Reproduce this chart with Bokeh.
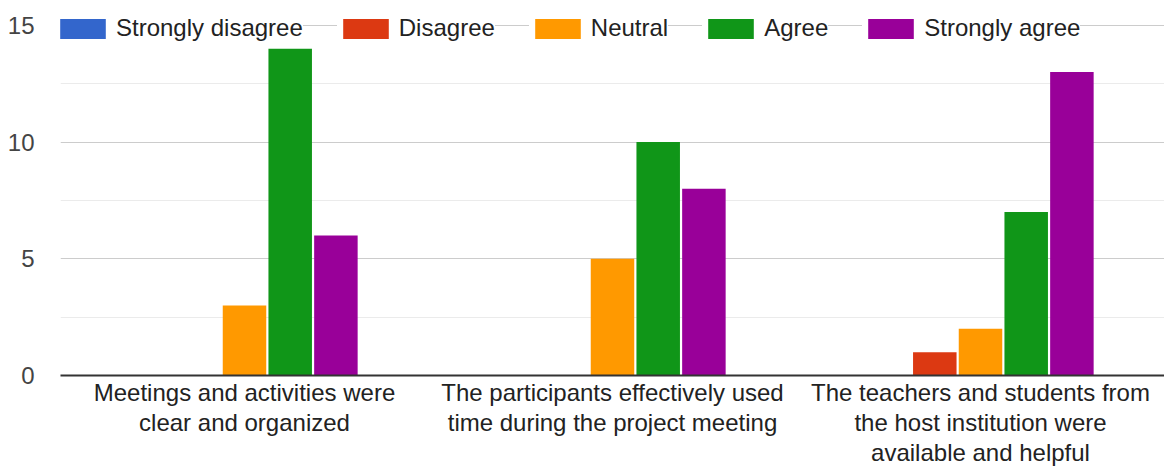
from bokeh.plotting import figure
from bokeh.models import FactorRange, Range1d, FixedTicker, Legend
from bokeh.transform import dodge
from bokeh.embed import file_html
from bokeh.resources import INLINE

categories = [
    "Meetings and activities were\nclear and organized",
    "The participants effectively used\ntime during the project meeting",
    "The teachers and students from\nthe host institution were\navailable and helpful",
]
series_names = ["Strongly disagree", "Disagree", "Neutral", "Agree", "Strongly agree"]
strongly_disagree = [0, 0, 0]
disagree = [0, 0, 1]
neutral = [3, 5, 2]
agree = [14, 10, 7]
strongly_agree = [6, 8, 13]
colors = ["#3366CC", "#DC3912", "#FF9900", "#109618", "#990099"]
y_ticks = [0, 5, 10, 15]
y_minor = [2.5, 7.5, 12.5]

FONT = "Liberation Sans"
Y_MAX = 15
Y_TOP = Y_MAX * 377 / 352   # headroom above the top gridline for the legend

p = figure(
    x_range=FactorRange(factors=categories, range_padding=0),
    y_range=Range1d(0, Y_TOP),
    width=1164, height=468,
    output_backend="svg", toolbar_location=None,
    min_border_left=60, min_border_right=0, min_border_top=0, min_border_bottom=91,
)
p.outline_line_color = None
p.background_fill_color = "white"

data = dict(cat=categories)
vals = [strongly_disagree, disagree, neutral, agree, strongly_agree]
for i, v in enumerate(vals):
    data["s%d" % i] = v

step = 45.7 / 368
bw = 43.5 / 368
renderers = []
for i, name in enumerate(series_names):
    r = p.vbar(x=dodge("cat", (i - 2) * step, range=p.x_range), top="s%d" % i,
               width=bw, source=data, fill_color=colors[i], line_color=None)
    renderers.append((name, [r]))

legend = Legend(items=renderers, orientation="horizontal", location=(-6, 333),
                padding=0, margin=0, spacing=34, label_standoff=5,
                glyph_width=57, glyph_height=25, label_height=25,
                label_text_font=FONT, label_text_font_size="24px",
                label_text_color="#222222", border_line_color=None,
                background_fill_alpha=0,
                item_background_policy="every",
                item_background_fill_color="white", item_background_fill_alpha=1.0)
p.add_layout(legend, "center")

p.yaxis.ticker = FixedTicker(ticks=y_ticks, minor_ticks=y_minor)
p.yaxis.axis_line_color = None
p.yaxis.major_tick_line_color = None
p.yaxis.minor_tick_line_color = None
p.yaxis.major_tick_out = 0
p.yaxis.major_label_standoff = 22
p.yaxis.major_label_text_font = FONT
p.yaxis.major_label_text_font_size = "24px"
p.yaxis.major_label_text_color = "#444444"

p.ygrid.ticker = FixedTicker(ticks=y_ticks, minor_ticks=y_minor)
p.ygrid.grid_line_color = "#cccccc"
p.ygrid.minor_grid_line_color = "#ebebeb"
p.xgrid.grid_line_color = None

p.xaxis.axis_line_color = "#333333"
p.xaxis.axis_line_width = 2
p.xaxis.major_tick_line_color = None
p.xaxis.minor_tick_line_color = None
p.xaxis.major_tick_out = 0
p.xaxis.major_label_standoff = 3
p.xaxis.major_label_text_font = FONT
p.xaxis.major_label_text_font_size = "24px"
p.xaxis.major_label_text_color = "#222222"
p.xaxis.major_label_text_line_height = 1.12

open("out.html", "w").write(file_html(p, INLINE))
